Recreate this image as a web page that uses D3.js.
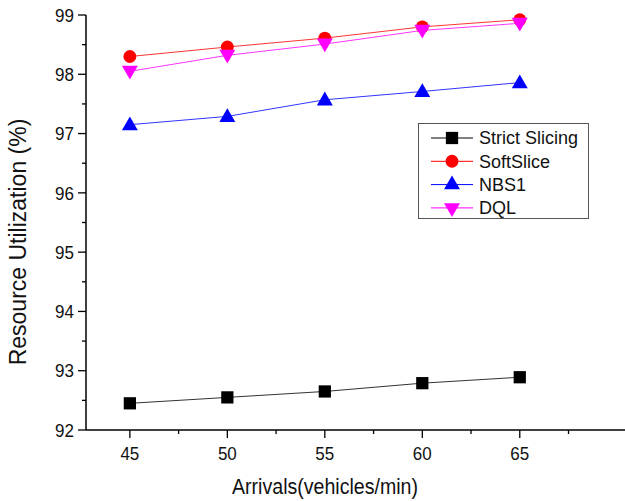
<!DOCTYPE html>
<html>
<head>
<meta charset="utf-8">
<script src="https://cdn.jsdelivr.net/npm/d3@7.9.0/dist/d3.min.js"></script>
<style>
  body { margin: 0; background: #fff; }
  svg { display: block; font-family: "Liberation Sans", Arial, sans-serif; }
</style>
</head>
<body>
<svg id="chart" width="625" height="501"></svg>
<script>
const arrivals = [45, 50, 55, 60, 65];
const strictSlicing = [92.45, 92.55, 92.65, 92.79, 92.89];
const softSlice = [98.30, 98.46, 98.61, 98.80, 98.92];
const nbs1 = [97.15, 97.29, 97.57, 97.71, 97.86];
const dql = [98.05, 98.32, 98.51, 98.74, 98.86];
const xTicks = [45, 50, 55, 60, 65];
const yTicks = [92, 93, 94, 95, 96, 97, 98, 99];

const series = [
  { name: 'Strict Slicing', values: strictSlicing, color: '#000000', symbol: d3.symbolSquare, size: 150, rot: 0 },
  { name: 'SoftSlice', values: softSlice, color: '#ff0000', symbol: d3.symbolCircle, size: 130, rot: 0 },
  { name: 'NBS1', values: nbs1, color: '#0000ff', symbol: d3.symbolTriangle, size: 110, rot: 0 },
  { name: 'DQL', values: dql, color: '#ff00ff', symbol: d3.symbolTriangle, size: 110, rot: 180 }
];

const svg = d3.select('#chart');

const x = d3.scaleLinear().domain([42.75, 70.5]).range([86, 627]);
const y = d3.scaleLinear().domain([92, 99]).range([430, 15]);

// axes
let xAxis = svg.append('g').attr('transform', 'translate(0,430)');
xAxis.append('line').attr('x1', 86).attr('x2', 625).attr('y1', 0).attr('y2', 0)
  .attr('stroke', '#000').attr('stroke-width', 1.5);
d3.range(45, 70, 2.5).forEach(v => {
  let major = v % 5 === 0;
  xAxis.append('line').attr('x1', x(v)).attr('x2', x(v)).attr('y1', 0).attr('y2', major ? 8 : 4)
    .attr('stroke', '#000').attr('stroke-width', 1.3);
});
xAxis.selectAll('text.tick').data(xTicks).enter().append('text')
  .attr('transform', d => `translate(${x(d)},30) scale(0.92,1)`).attr('text-anchor', 'middle')
  .attr('font-size', 18.5).attr('fill', '#111').text(d => d);

let yAxis = svg.append('g').attr('transform', 'translate(86,0)');
yAxis.append('line').attr('x1', 0).attr('x2', 0).attr('y1', y(99)).attr('y2', y(92))
  .attr('stroke', '#000').attr('stroke-width', 1.5);
d3.range(92, 99.01, 0.5).forEach(v => {
  let major = Math.abs(v - Math.round(v)) < 1e-6;
  yAxis.append('line').attr('x1', major ? -8 : -4).attr('x2', 0).attr('y1', y(v)).attr('y2', y(v))
    .attr('stroke', '#000').attr('stroke-width', 1.3);
});
yAxis.selectAll('text.tick').data(yTicks).enter().append('text')
  .attr('transform', d => `translate(-12,${y(d)}) scale(0.92,1)`).attr('dy', '0.36em').attr('text-anchor', 'end')
  .attr('font-size', 18.5).attr('fill', '#111').text(d => d);

// titles
svg.append('text').attr('transform', 'translate(325,494) scale(0.89,1)').attr('text-anchor', 'middle')
  .attr('font-size', 22).attr('fill', '#111').text('Arrivals(vehicles/min)');
svg.append('text').attr('transform', 'translate(26,242) rotate(-90)').attr('text-anchor', 'middle')
  .attr('font-size', 23).attr('fill', '#111').text('Resource Utilization (%)');

// lines and markers
const line = d3.line().x((d, i) => x(arrivals[i])).y(d => y(d));
series.forEach(s => {
  svg.append('path').datum(s.values).attr('d', line)
    .attr('fill', 'none').attr('stroke', s.color).attr('stroke-width', 1).attr('opacity', 0.8);
  svg.selectAll(null).data(s.values).enter().append('path')
    .attr('d', d3.symbol().type(s.symbol).size(s.size))
    .attr('transform', (d, i) => `translate(${x(arrivals[i])},${y(d) + (s.symbol === d3.symbolTriangle ? (s.rot ? -1 : 1) : 0)}) rotate(${s.rot})`)
    .attr('fill', s.color);
});

// legend
let legend = svg.append('g');
legend.append('rect').attr('x', 418.5).attr('y', 123.5).attr('width', 170).attr('height', 95)
  .attr('fill', '#fff').attr('stroke', '#555').attr('stroke-width', 1);
series.forEach((s, i) => {
  let ly = 138 + i * 23.3;
  legend.append('line').attr('x1', 431).attr('x2', 473).attr('y1', ly).attr('y2', ly)
    .attr('stroke', s.color).attr('stroke-width', 1);
  legend.append('path').attr('d', d3.symbol().type(s.symbol).size(s.size))
    .attr('transform', `translate(452,${ly}) rotate(${s.rot})`).attr('fill', s.color);
  legend.append('text').attr('x', 479).attr('y', ly).attr('dy', '0.36em')
    .attr('font-size', 18).attr('fill', '#111').text(s.name);
});
</script>
</body>
</html>
